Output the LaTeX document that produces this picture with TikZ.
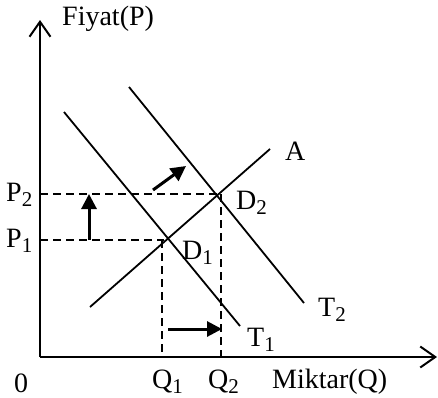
\documentclass[tikz,border=0pt]{standalone}
\usepackage{fontspec}
\setmainfont{Liberation Serif}
\usetikzlibrary{arrows.meta}
\newcommand\lsub[1]{\raisebox{-5pt}{\fontsize{21}{21}\selectfont #1}}
\tikzset{
  axis/.style={line width=2pt,-{Straight Barb[length=15pt,width=21pt,line width=2pt]}},
  curve/.style={line width=1.8pt},
  guide/.style={line width=1.8pt,dash pattern=on 8pt off 5pt},
  shiftarrow/.style={line width=3pt,-{Triangle[length=15pt,width=15pt]}},
  lab/.style={inner sep=0pt,anchor=base west,font=\fontsize{28}{32}\selectfont},
}
\begin{document}
\begin{tikzpicture}[x=1pt,y=-1pt]
\useasboundingbox (0,0) rectangle (438,397);
% axes
\coordinate (O) at (40,357);
\coordinate (Ytop) at (40,20);
\coordinate (Xend) at (437,357);
\draw[axis] (O) -- (Ytop);
\draw[axis] (O) -- (Xend);
% curves
\coordinate (T1a) at (64,112);
\coordinate (T1b) at (240,326);
\coordinate (T2a) at (129,87);
\coordinate (T2b) at (304,303);
\coordinate (Aa) at (90,307);
\coordinate (Ab) at (270,149);
\draw[curve] (T1a) -- (T1b);
\draw[curve] (T2a) -- (T2b);
\draw[curve] (Aa) -- (Ab);
% equilibria
\coordinate (D1) at (164,240);
\coordinate (D2) at (219,194);
\coordinate (P1y) at (40,240);
\coordinate (P2y) at (40,194);
\coordinate (Q1x) at (162,357);
\coordinate (Q2x) at (221,357);
\coordinate (Q1t) at (162,240);
\coordinate (Q2t) at (221,194);
\draw[guide] (P2y) -- (D2);
\draw[guide] (P1y) -- (D1);
\draw[guide] (Q1t) -- (Q1x);
\draw[guide] (Q2t) -- (Q2x);
% shift arrows
\coordinate (s1a) at (89,240);
\coordinate (s1b) at (89,194);
\coordinate (s2a) at (153,190);
\coordinate (s2b) at (186,166);
\coordinate (s3a) at (168,329);
\coordinate (s3b) at (222,329);
\draw[shiftarrow] (s1a) -- (s1b);
\draw[shiftarrow] (s2a) -- (s2b);
\draw[shiftarrow] (s3a) -- (s3b);
% labels
\node[lab] (fy) at (62,25) {Fiyat(P)};
\node[lab] (p2) at (6,201) {P\lsub{2}};
\node[lab] (p1) at (6,247) {P\lsub{1}};
\node[lab] (d2) at (236,209) {D\lsub{2}};
\node[lab] (d1) at (182,259) {D\lsub{1}};
\node[lab] (a) at (285,160) {A};
\node[lab] (t2) at (318,316) {T\lsub{2}};
\node[lab] (t1) at (247,346) {T\lsub{1}};
\node[lab] (zero) at (14,392) {0};
\node[lab] (q1) at (152,388) {Q\lsub{1}};
\node[lab] (q2) at (208,388) {Q\lsub{2}};
\node[lab] (mq) at (272,388) {Miktar(Q)};
\end{tikzpicture}
\end{document}
